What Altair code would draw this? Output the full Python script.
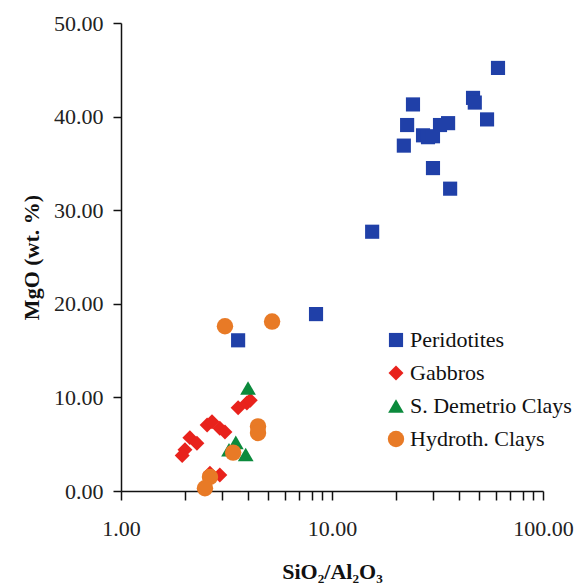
import altair as alt
import pandas as pd

groups = ["Peridotites", "Gabbros", "S. Demetrio Clays", "Hydroth. Clays"]

perid_x = [3.59, 8.4, 15.5, 61.2, 46.6, 47.5, 54.3, 24.2, 22.7, 21.9, 27.0, 28.5, 30.1, 32.5, 35.5, 30.1, 36.3]
perid_y = [16.1, 18.9, 27.7, 45.2, 42.0, 41.5, 39.7, 41.3, 39.1, 36.9, 38.0, 37.8, 37.9, 39.1, 39.3, 34.5, 32.3]

gab_x = [3.59, 3.95, 4.1, 2.56, 2.70, 2.94, 3.11, 2.12, 2.29, 2.01, 1.95, 2.64, 2.94]
gab_y = [8.9, 9.4, 9.7, 7.05, 7.4, 6.7, 6.3, 5.7, 5.1, 4.4, 3.8, 1.9, 1.7]

dem_x = [4.0, 3.25, 3.5, 3.9]
dem_y = [11.0, 4.4, 5.2, 3.9]

hyd_x = [3.11, 5.2, 4.46, 4.46, 3.40, 2.64, 2.50]
hyd_y = [17.6, 18.1, 6.9, 6.2, 4.1, 1.5, 0.3]

rows = []
for g, xs, ys in [(groups[0], perid_x, perid_y), (groups[1], gab_x, gab_y),
                  (groups[2], dem_x, dem_y), (groups[3], hyd_x, hyd_y)]:
    for a, b in zip(xs, ys):
        rows.append({"group": g, "ratio": a, "mgo": b})
df = pd.DataFrame(rows)

all_ticks = [1, 2, 3, 4, 5, 6, 7, 8, 9, 10, 20, 30, 40, 50, 60, 70, 80, 90, 100]
y_ticks = [0, 10, 20, 30, 40, 50]

font = "Liberation Serif"

xscale = alt.Scale(type="log", domain=[1, 100], nice=False)
yscale = alt.Scale(domain=[0, 50], nice=False)

chart = alt.Chart(df).mark_point(filled=True, opacity=1).encode(
    x=alt.X("ratio:Q", scale=xscale,
            axis=alt.Axis(values=all_ticks, tickCount=100,
                          labelExpr="indexof([1, 10, 100], datum.value) >= 0 ? format(datum.value, '.2f') : ''",
                          title="SiO₂/Al₂O₃", grid=False, tickSize=9,
                          labelPadding=18, titlePadding=22, labelFlush=False,
                          labelOverlap=False, labelBound=False)),
    y=alt.Y("mgo:Q", scale=yscale,
            axis=alt.Axis(values=y_ticks, format=".2f", title="MgO (wt. %)",
                          grid=False, tickSize=8, labelPadding=10, titlePadding=10)),
    color=alt.Color("group:N", scale=alt.Scale(domain=groups,
                    range=["#2040a8", "#e8221c", "#0b8a3c", "#e87a26"]),
                    legend=alt.Legend(title=None, orient="none", legendX=264, legendY=306,
                                      labelFont="Liberation Serif",
                                      labelFontSize=22, labelColor="#111",
                                      labelLimit=400,
                                      symbolSize=230, rowPadding=11, labelOffset=3,
                                      symbolStrokeWidth=0)),
    shape=alt.Shape("group:N", scale=alt.Scale(domain=groups,
                    range=["square", "diamond", "triangle-up", "circle"]),
                    legend=None),
    size=alt.Size("group:N", scale=alt.Scale(domain=groups, range=[200, 270, 330, 230]),
                  legend=None),
).properties(
    width=422, height=468,
    autosize=alt.AutoSizeParams(type="none"),
    padding={"left": 121, "top": 23, "right": 40, "bottom": 97},
).configure(font=font).configure_view(stroke=None).configure_axis(
    domainColor="#111", domainWidth=1.5, tickColor="#111", tickWidth=1.5,
    labelFont=font, labelFontSize=22, labelColor="#222",
    titleFont=font, titleFontSize=22, titleFontWeight="bold", titleColor="#111",
).configure_legend(labelFont="Liberation Serif", labelFontSize=22)

chart.save("out.html", embed_options={"renderer": "svg", "actions": False})
